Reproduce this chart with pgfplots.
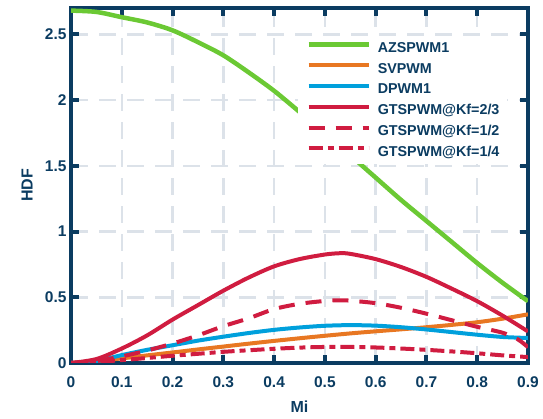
\documentclass[border=0pt]{standalone}
\usepackage{fontspec}
\setmainfont{Liberation Sans}
\usepackage{pgfplots}
\pgfplotsset{compat=1.18}
\definecolor{navy}{HTML}{0B3C61}
\definecolor{cgreen}{HTML}{6BC934}
\definecolor{corange}{HTML}{E87722}
\definecolor{cblue}{HTML}{00A0DC}
\definecolor{cred}{HTML}{D01C40}
\definecolor{cgrid}{HTML}{DCE2E9}
\begin{document}
\begin{tikzpicture}
\begin{axis}[
  set layers=standard,
  at={(0pt,0pt)}, anchor=south west,
  scale only axis, width=457pt, height=355pt,
  xmin=0, xmax=0.9, ymin=0, ymax=2.7,
  xtick={0,0.1,0.2,0.3,0.4,0.5,0.6,0.7,0.8,0.9}, ytick={0,0.5,1,1.5,2,2.5},
  xticklabels={0,0.1,0.2,0.3,0.4,0.5,0.6,0.7,0.8,0.9},
  yticklabels={0,0.5,1,1.5,2,2.5},
  /pgf/number format/assume math mode=true,
  ticklabel style={font=\fontsize{15.5}{18}\selectfont\bfseries, text=navy},
  xticklabel style={yshift=-10pt},
  yticklabel style={xshift=-1pt},
  axis line style={navy, line width=3.5pt},
  major tick style={draw=navy, line width=4pt, solid},
  tick align=inside, major tick length=8pt,
  extra x ticks={0.1,0.2,0.3,0.4,0.5,0.6,0.7,0.8},
  extra x tick labels={},
  extra y ticks={0.5,1,1.5,2,2.5},
  extra y tick labels={},
  extra tick style={grid=major, major tick length=0pt},
  major grid style={cgrid, line width=2.5pt, dash pattern=on 17pt off 11pt},
  xlabel={Mi}, ylabel={HDF},
  label style={font=\fontsize{16}{18}\selectfont\bfseries, text=navy},
  xlabel style={at={(axis description cs:0.5,0)}, anchor=center, yshift=-44pt},
  ylabel style={at={(axis description cs:0,0.5)}, anchor=center, yshift=44pt},
  legend style={at={(axis description cs:0.497,0.918)}, anchor=north west,
    draw=none, fill=white,
    nodes={font=\fontsize{14.3}{16}\selectfont\bfseries, text=navy, inner sep=0pt, text height=11pt, text depth=4pt},
    row sep=5.8pt, inner xsep=8pt, inner ysep=4pt},
  legend cell align=left,
  legend image code/.code={\draw[#1] (0pt,4.5pt) -- (60pt,4.5pt);},
  /tikz/every odd column/.append style={column sep=7pt},
  line join=round,
]
\addplot[cgreen, line width=4.5pt, smooth] coordinates {
(0,2.68) (0.05,2.67) (0.1,2.63) (0.15,2.59) (0.2,2.53) (0.25,2.44) (0.3,2.34)
(0.35,2.21) (0.4,2.07) (0.45,1.91) (0.5,1.75) (0.55,1.58) (0.6,1.41) (0.65,1.24)
(0.7,1.08) (0.75,0.92) (0.8,0.76) (0.85,0.61) (0.9,0.47)};
\addlegendentry{AZSPWM1}
\addplot[corange, line width=4pt, smooth] coordinates {
(0,0) (0.05,0.015) (0.1,0.035) (0.15,0.058) (0.2,0.08) (0.25,0.103) (0.3,0.125)
(0.35,0.147) (0.4,0.168) (0.45,0.188) (0.5,0.207) (0.55,0.225) (0.6,0.241)
(0.65,0.256) (0.7,0.272) (0.75,0.29) (0.8,0.31) (0.85,0.337) (0.9,0.37)};
\addlegendentry{SVPWM}
\addplot[cblue, line width=4pt, smooth] coordinates {
(0,0) (0.05,0.015) (0.1,0.06) (0.15,0.1) (0.2,0.135) (0.25,0.17) (0.3,0.2)
(0.35,0.228) (0.4,0.252) (0.45,0.27) (0.5,0.283) (0.55,0.288) (0.6,0.284)
(0.65,0.272) (0.7,0.255) (0.75,0.235) (0.8,0.215) (0.85,0.198) (0.9,0.19)};
\addlegendentry{DPWM1}
\addplot[cred, line width=4pt, smooth] coordinates {
(0,0) (0.05,0.03) (0.1,0.11) (0.15,0.21) (0.2,0.33) (0.25,0.44) (0.3,0.55)
(0.35,0.65) (0.4,0.735) (0.45,0.79) (0.5,0.825) (0.53,0.835) (0.55,0.83)
(0.6,0.79) (0.65,0.73) (0.7,0.655) (0.75,0.565) (0.8,0.47) (0.85,0.36) (0.9,0.24)};
\addlegendentry{GTSPWM@Kf=2/3}
\addplot[cred, line width=4pt, smooth, dash pattern=on 16pt off 11pt] coordinates {
(0,0) (0.05,0.015) (0.1,0.05) (0.15,0.095) (0.2,0.148) (0.25,0.21) (0.3,0.28)
(0.35,0.34) (0.4,0.41) (0.45,0.45) (0.5,0.472) (0.53,0.477) (0.55,0.474)
(0.6,0.455) (0.65,0.42) (0.7,0.375) (0.75,0.325) (0.8,0.275) (0.85,0.23)
(0.88,0.18) (0.9,0.12)};
\addlegendentry{GTSPWM@Kf=1/2}
\addplot[cred, line width=4pt, smooth, dash pattern=on 14pt off 5pt on 6pt off 5pt] coordinates {
(0,0) (0.05,0.008) (0.1,0.022) (0.15,0.038) (0.2,0.055) (0.25,0.07) (0.3,0.085)
(0.35,0.097) (0.4,0.108) (0.45,0.117) (0.5,0.122) (0.55,0.122) (0.6,0.118)
(0.65,0.11) (0.7,0.1) (0.75,0.088) (0.8,0.074) (0.85,0.058) (0.9,0.045)};
\addlegendentry{GTSPWM@Kf=1/4}
\end{axis}
\path (-71pt,-56pt) rectangle (472pt,363pt);
\end{tikzpicture}
\end{document}
